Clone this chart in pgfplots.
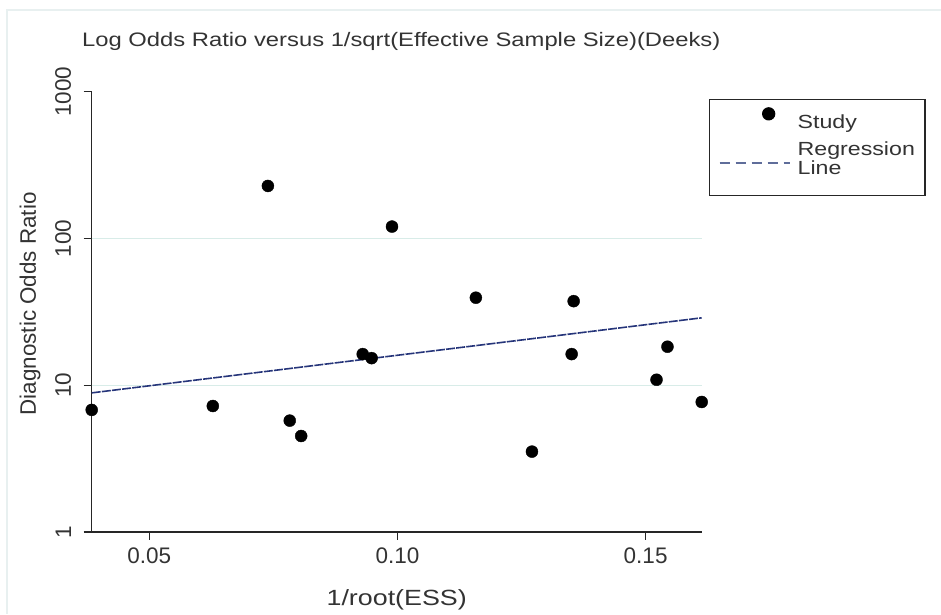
\documentclass[border=0pt]{standalone}
\usepackage{pgfplots}
\pgfplotsset{compat=1.18}
\usepackage{fontspec}
\setmainfont{Liberation Sans}
\newfontfamily\widefont{Liberation Sans}[FakeStretch=1.22]
\definecolor{gridc}{HTML}{D8ECE8}
\definecolor{regc}{HTML}{26357A}
\definecolor{legc}{HTML}{5F6D9A}
\definecolor{framec}{HTML}{E8F0F0}
\pgfplotsset{
  studyleg/.style={legend image code/.code={\draw[##1] plot coordinates {(51pt,8.5pt)}; \path[draw=none] (0pt,0pt) -- (78pt,0pt);}},
  regleg/.style={legend image code/.code={\draw[legc, line width=2pt, dash pattern=on 10pt off 6pt] (2pt,-4.5pt) -- (72pt,-4.5pt); \path[draw=none] (0pt,-4.5pt) -- (78pt,-4.5pt);}},
}
\begin{document}
\begin{tikzpicture}
\path[use as bounding box] (0pt,0pt) rectangle (941pt,614pt);
\draw[framec, line width=1.5pt] (7pt,0pt) -- (7pt,604pt) -- (941pt,604pt);
\begin{axis}[
  at={(91.7pt,82pt)}, anchor=south west,
  width=610pt, height=440.3pt, scale only axis,
  xmin=0.0384, xmax=0.1613,
  ymode=log, ymin=1, ymax=1000,
  axis x line*=bottom, axis y line*=left,
  axis line style={line width=1.3pt, black!85},
  xtick={0.05,0.10,0.15}, xticklabels={0.05,0.10,0.15},
  ytick={1,10,100,1000}, yticklabels={1,10,100,1000},
  yminorticks=false,
  tick align=outside, major tick length=8pt,
  tick style={line width=1.3pt, black!85},
  /pgf/number format/assume math mode=true,
  ticklabel style={font=\fontsize{22.5}{22}\selectfont, text=black!80},
  xticklabel style={yshift=-4pt},
  yticklabel style={rotate=90, anchor=south, yshift=9pt},
  extra y ticks={10,100}, extra y tick labels={},
  extra y tick style={grid=major, major grid style={gridc, line width=1.3pt}, major tick length=0pt},
  xlabel={1/root(ESS)},
  ylabel={Diagnostic Odds Ratio},
  xlabel style={font=\fontsize{22}{22}\selectfont\widefont, text=black!80, at={(axis description cs:0.5,-0.1544)}, anchor=center},
  ylabel style={font=\fontsize{22.4}{22}\selectfont, text=black!80, at={(axis description cs:-0.101,0.518)}, anchor=center, rotate=0},
  clip=false,
  legend style={at={(axis description cs:1.012,0.983)}, anchor=north west,
    draw=black!85, line width=1.3pt, fill=white,
    font=\fontsize{19}{18.5}\selectfont\widefont, text=black!80,
    cells={anchor=west, align=left},
    inner xsep=8pt, inner ysep=8pt, row sep=8pt},
]
\addplot[only marks, mark=*, mark size=6pt, black, mark options={fill=black}, studyleg]
  coordinates {
  (0.0384,6.79) (0.0628,7.22) (0.0739,228) (0.0783,5.74) (0.0806,4.51)
  (0.0930,16.3) (0.0948,15.3) (0.0989,120.5) (0.1158,39.5) (0.1271,3.53)
  (0.1355,37.4) (0.1351,16.3) (0.1522,10.9) (0.1544,18.3) (0.1613,7.69)
  };
\addlegendentry{Study}
\addplot[regc, line width=1.6pt, dash pattern=on 9pt off 1.2pt, regleg]
  coordinates {(0.0384,8.87) (0.1613,28.8)};
\addlegendentry{Regression\\Line}
\addlegendimage{empty legend}
\addlegendentry[inner sep=0pt, font=\fontsize{2}{2}\selectfont]{}
\end{axis}
\node[anchor=base west, inner sep=0pt, font=\fontsize{19.5}{20}\selectfont\widefont, text=black!80] at (82pt,567.3pt) {Log Odds Ratio versus 1/sqrt(Effective Sample Size)(Deeks)};
\end{tikzpicture}
\end{document}
